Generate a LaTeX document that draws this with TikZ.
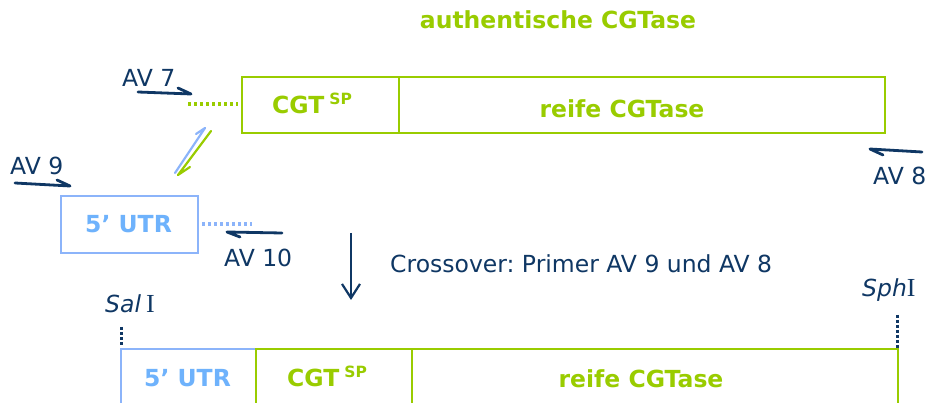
\documentclass[tikz,border=0pt]{standalone}
\usepackage{fontspec}
\setmainfont{DejaVu Sans}[Ligatures=ResetAll]
\newfontfamily\romI{Liberation Serif}
\usetikzlibrary{arrows.meta}
\definecolor{cgreen}{RGB}{153,204,0}
\definecolor{cnavy}{RGB}{15,55,100}
\definecolor{cblue}{RGB}{140,180,250}
\definecolor{cbluetxt}{RGB}{110,178,252}
\newcommand{\bsz}{\fontsize{23.5}{28}\selectfont\bfseries}
\newcommand{\rsz}{\fontsize{23.5}{28}\selectfont}
\newcommand{\spsup}{\raisebox{9pt}{\fontsize{15.5}{16}\selectfont\bfseries SP}}
\newcommand{\utrlabel}{5\symbol{39}\ UTR}
\begin{document}
\begin{tikzpicture}[x=1pt,y=-1pt,
  gbox/.style={draw=cgreen, line width=2.5pt, inner sep=0pt, outer sep=0pt, anchor=north west},
  bbox/.style={draw=cblue, line width=2.5pt, inner sep=0pt, outer sep=0pt, anchor=north west},
  gtxt/.style={font=\bsz, text=cgreen, inner sep=0pt, anchor=base west},
  btxt/.style={font=\bsz, text=cbluetxt, inner sep=0pt, anchor=base west},
  ntxt/.style={font=\rsz, text=cnavy, inner sep=0pt, anchor=base west},
  primer/.style={draw=cnavy, line width=2.8pt, line cap=round, line join=round},
  strand/.style={line width=2.2pt, line cap=round, line join=round},
  gdots/.style={draw=cgreen, line width=3.2pt, dash pattern=on 3pt off 3pt},
  bdots/.style={draw=cblue, line width=3.2pt, dash pattern=on 3pt off 3pt},
  ndots/.style={draw=cnavy, line width=3pt, dash pattern=on 3pt off 2pt}]
\useasboundingbox (0,0) rectangle (932,403);
\clip (0,0) rectangle (932,403);
\fill[white] (0,0) rectangle (932,403);

% title
\node[font=\bsz, text=cgreen, inner sep=0pt, anchor=base] (title) at (558,29) {authentische CGTase};

% top construct
\node[gbox, minimum width=157pt, minimum height=56pt] (sp1) at (242,77) {};
\node[gbox, minimum width=486pt, minimum height=56pt] (rc1) at (399,77) {};
\node[gtxt] (cgt1) at (272,114) {CGT\kern5pt\spsup};
\node[font=\bsz, text=cgreen, inner sep=0pt, anchor=base] (reife1) at (622,118) {reife CGTase};

% 5' UTR fragment
\node[bbox, minimum width=137pt, minimum height=57pt] (utr1) at (61,196) {};
\node[btxt] (utrt1) at (85,233) {\utrlabel};

% dotted overhangs
\coordinate (g1) at (188,104); \coordinate (g2) at (238,104);
\draw[gdots] (g1) -- (g2);
\coordinate (b1) at (202,224); \coordinate (b2) at (252,224);
\draw[bdots] (b1) -- (b2);

% primers (shaft + one barb)
\coordinate (p7a) at (138,92); \coordinate (p7b) at (191,94); \coordinate (p7c) at (178,88);
\draw[primer] (p7a) -- (p7b) -- (p7c);
\node[ntxt] (av7) at (122,87) {AV 7};
\coordinate (p9a) at (15,183); \coordinate (p9b) at (70,186); \coordinate (p9c) at (57,180);
\draw[primer] (p9a) -- (p9b) -- (p9c);
\node[ntxt] (av9) at (10,175) {AV 9};
\coordinate (p10a) at (282,233); \coordinate (p10b) at (227,232); \coordinate (p10c) at (240,237);
\draw[primer] (p10a) -- (p10b) -- (p10c);
\node[ntxt] (av10) at (224,267) {AV 10};
\coordinate (p8a) at (922,152); \coordinate (p8b) at (870,149); \coordinate (p8c) at (883,155);
\draw[primer] (p8a) -- (p8b) -- (p8c);
\node[ntxt] (av8) at (873,185) {AV 8};

% annealing strands
\coordinate (s1a) at (175,173); \coordinate (s1b) at (205,128); \coordinate (s1c) at (196,134);
\draw[strand, draw=cblue] (s1a) -- (s1b) -- (s1c);
\coordinate (s2a) at (211,131); \coordinate (s2b) at (178,175); \coordinate (s2c) at (190,167);
\draw[strand, draw=cgreen] (s2a) -- (s2b) -- (s2c);

% crossover arrow
\coordinate (d1) at (351,233); \coordinate (d2) at (351,300);
\draw[draw=cnavy, line width=2.2pt, -{Straight Barb[length=14pt,width=18pt,line width=2.2pt]}] (d1) -- (d2);
\node[ntxt] (cross) at (390,273) {\frenchspacing Crossover: Primer AV 9 und AV 8};

% restriction sites
\node[ntxt] (sal) at (105,313) {\itshape Sal\kern5pt{\upshape\romI\fontsize{26}{28}\selectfont I}};
\node[ntxt] (sph) at (862,297) {\itshape Sph{\upshape\romI\fontsize{26}{28}\selectfont I}};
\coordinate (sa1) at (121,327); \coordinate (sa2) at (121,346);
\draw[ndots] (sa1) -- (sa2);
\coordinate (sh1) at (897,315); \coordinate (sh2) at (897,348);
\draw[ndots] (sh1) -- (sh2);

% fused construct
\node[bbox, minimum width=135pt, minimum height=90pt] (utr2) at (121,349) {};
\node[gbox, minimum width=156pt, minimum height=90pt] (sp2) at (256,349) {};
\node[gbox, minimum width=486pt, minimum height=90pt] (rc2) at (412,349) {};
\node[btxt] (utrt2) at (144,386) {\utrlabel};
\node[gtxt] (cgt2) at (287,386) {CGT\kern5pt\spsup};
\node[font=\bsz, text=cgreen, inner sep=0pt, anchor=base] (reife2) at (641,388) {reife CGTase};
\end{tikzpicture}
\end{document}
